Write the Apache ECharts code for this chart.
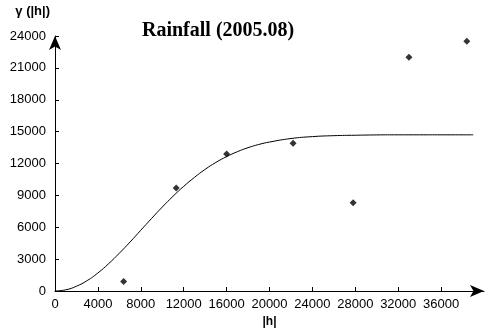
<!DOCTYPE html>
<html><head><meta charset="utf-8">
<script src="https://cdn.jsdelivr.net/npm/echarts@6/dist/echarts.min.js"></script>
<style>html,body{margin:0;padding:0;background:#fff}#c{width:492px;height:333px}</style>
</head><body><div id="c"></div>
<script>
// Experimental points (lag |h|, semivariance)
const pointLag = [6400, 11300, 16000, 22200, 27800, 33000, 38400];
const pointGamma = [900, 9700, 12900, 13900, 8300, 22000, 23500];
// Fitted model curve
const curveLag = [0,1000,2000,3000,4000,5000,6000,7000,8000,9000,10000,11000,12000,13000,14000,15000,16000,17000,18000,19000,20000,22000,24000,26000,28000,30000,32000,34000,36000,39000];
const curveGamma = [0,110,450,980,1700,2570,3560,4610,5720,6820,7900,8910,9850,10690,11450,12100,12650,13110,13490,13790,14020,14350,14530,14620,14660,14690,14700,14700,14700,14700];
const xTicks = [0,4000,8000,12000,16000,20000,24000,28000,32000,36000];
const yTicks = [0,3000,6000,9000,12000,15000,18000,21000,24000];

const font = '"Liberation Sans", Arial, sans-serif';
const chart = echarts.init(document.getElementById('c'));
chart.setOption({
  animation: false,
  backgroundColor: '#fff',
  title: {
    text: 'Rainfall (2005.08)', left: 137, top: 16,
    textStyle: {fontFamily: '"Liberation Serif", "Times New Roman", serif', fontWeight: 'bold', fontSize: 20, color: '#000'}
  },
  grid: {left: 55, right: 8, top: 36, bottom: 41, containLabel: false},
  xAxis: {
    type: 'value', min: 0, max: 40000, interval: 4000,
    name: '|h|', nameLocation: 'middle', nameGap: 25,
    nameTextStyle: {fontFamily: font, fontWeight: 'bold', fontSize: 12, color: '#000'},
    axisLine: {lineStyle: {color: '#000', width: 1}, symbol: ['none', 'arrow'], symbolSize: [9, 14]},
    axisTick: {inside: true, length: 4, lineStyle: {color: '#000'}, customValues: xTicks},
    axisLabel: {customValues: xTicks, formatter: v => String(v), color: '#000', fontFamily: font, fontSize: 13, margin: 7},
    splitLine: {show: false}
  },
  yAxis: {
    type: 'value', min: 0, max: 24000, interval: 3000,
    name: 'γ (|h|)', nameLocation: 'end', nameGap: 18,
    nameTextStyle: {fontFamily: font, fontWeight: 'bold', fontSize: 13, color: '#000', align: 'right', padding: [0, 5, 0, 0]},
    axisLine: {show: true, lineStyle: {color: '#000', width: 1}, symbol: ['none', 'arrow'], symbolSize: [9, 14]},
    axisTick: {show: true, inside: true, length: 4, lineStyle: {color: '#000'}, customValues: yTicks},
    axisLabel: {customValues: yTicks, formatter: v => String(v), color: '#000', fontFamily: font, fontSize: 13, margin: 9},
    splitLine: {show: false}
  },
  series: [
    {
      type: 'line', data: curveLag.map((x, i) => [x, curveGamma[i]]),
      smooth: true, showSymbol: false, lineStyle: {color: '#000', width: 1}, z: 2
    },
    {
      type: 'scatter', data: pointLag.map((x, i) => [x, pointGamma[i]]),
      symbol: 'diamond', symbolSize: 7, itemStyle: {color: '#000'}, z: 3
    }
  ]
});
</script></body></html>
